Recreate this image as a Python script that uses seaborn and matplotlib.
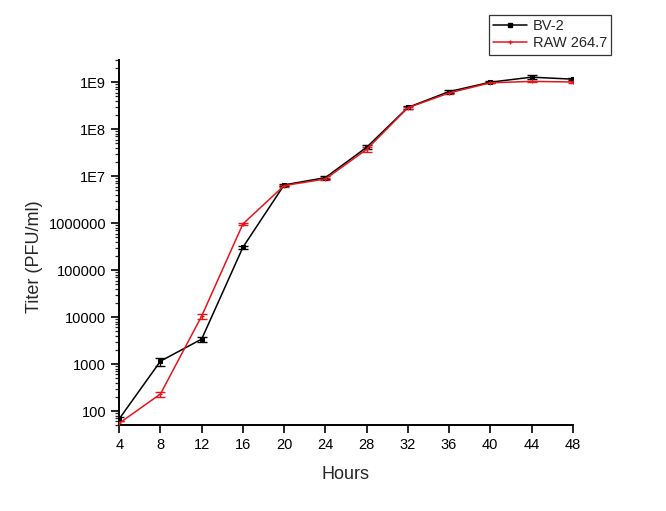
import matplotlib
matplotlib.use("Agg")
import matplotlib.pyplot as plt
import matplotlib.ticker as mticker
from matplotlib.lines import Line2D
import seaborn as sns
import pandas as pd
import numpy as np

hours = [4, 8, 12, 16, 20, 24, 28, 32, 36, 40, 44, 48]
bv2 = [68, 1150, 3400, 3.06e5, 6.5e6, 9.3e6, 4.1e7, 2.9e8, 6.3e8, 1.0e9, 1.28e9, 1.16e9]
bv2_err = [8, 220, 450, 2.5e4, 3e5, 6e5, 4e6, 2e7, 4e7, 4e7, 1.2e8, 6e7]
raw = [55, 230, 10500, 9.6e5, 6.3e6, 8.7e6, 3.7e7, 2.85e8, 5.9e8, 9.7e8, 1.04e9, 1.01e9]
raw_err = [6, 28, 1200, 5e4, 3e5, 4e5, 4.5e6, 1.8e7, 3.5e7, 3e7, 3e7, 3e7]
ytick_vals = [100, 1000, 10000, 100000, 1000000, 1e7, 1e8, 1e9]
ytick_labels = ["100", "1000", "10000", "100000", "1000000", "1E7", "1E8", "1E9"]
xtick_vals = hours

df = pd.DataFrame({
    "Hours": hours * 2,
    "Titer": bv2 + raw,
    "err": bv2_err + raw_err,
    "Cell": ["BV-2"] * len(hours) + ["RAW 264.7"] * len(hours),
})

sns.set_style("ticks")
plt.rcParams["font.family"] = ["Liberation Sans", "DejaVu Sans"]

fig = plt.figure(figsize=(6.66, 5.11), dpi=100)
ax = fig.add_axes([0.179, 0.168, 0.681, 0.715])

palette = {"BV-2": "black", "RAW 264.7": "#e8141c"}
markers = {"BV-2": "s", "RAW 264.7": "+"}
for cell, sub in df.groupby("Cell"):
    ax.errorbar(sub["Hours"], sub["Titer"], yerr=sub["err"], fmt="none",
                ecolor=palette[cell], elinewidth=1.0, capsize=3.5, capthick=1.0, zorder=3)
    sns.lineplot(data=sub, x="Hours", y="Titer", color=palette[cell],
                 marker=markers[cell], markersize=3, markeredgecolor=palette[cell],
                 linewidth=1.1, ax=ax, legend=False, zorder=4)

ax.set_yscale("log")
ax.set_ylim(50, 3e9)
ax.set_xlim(4, 48)
ax.set_xticks(xtick_vals)
ax.set_xticklabels([str(h) for h in xtick_vals])
ax.yaxis.set_major_locator(mticker.FixedLocator(ytick_vals))
ax.yaxis.set_major_formatter(mticker.FixedFormatter(ytick_labels))
ax.yaxis.set_minor_locator(mticker.LogLocator(base=10, subs=np.arange(2, 10)))
ax.yaxis.set_minor_formatter(mticker.NullFormatter())

ax.tick_params(axis="both", which="major", direction="out", length=6, width=1.2,
               labelsize=10.5, colors="black")
ax.tick_params(axis="y", which="minor", direction="out", length=3, width=0.9)
for s in ["top", "right"]:
    ax.spines[s].set_visible(False)
for s in ["left", "bottom"]:
    ax.spines[s].set_linewidth(1.4)
    ax.spines[s].set_color("black")

ax.set_xlabel("Hours", fontsize=13, labelpad=10)
ax.set_ylabel("Titer (PFU/ml)", fontsize=13)
ax.yaxis.set_label_coords(-0.168, 0.46)

handles = [Line2D([0], [0], color="black", marker="s", markersize=2.5, lw=1.1),
           Line2D([0], [0], color="#e8141c", marker="+", markersize=3, lw=1.1)]
leg = fig.legend(handles, ["BV-2", "RAW 264.7"], loc="upper left",
                 bbox_to_anchor=(489 / 666, 1 - 15 / 511), frameon=True, fancybox=False,
                 fontsize=10.5, handlelength=2.3, borderpad=0.3, labelspacing=0.2,
                 handletextpad=0.4, borderaxespad=0)
leg.get_frame().set_edgecolor("black")
leg.get_frame().set_linewidth(0.9)

fig.savefig("out.png", dpi=100)
